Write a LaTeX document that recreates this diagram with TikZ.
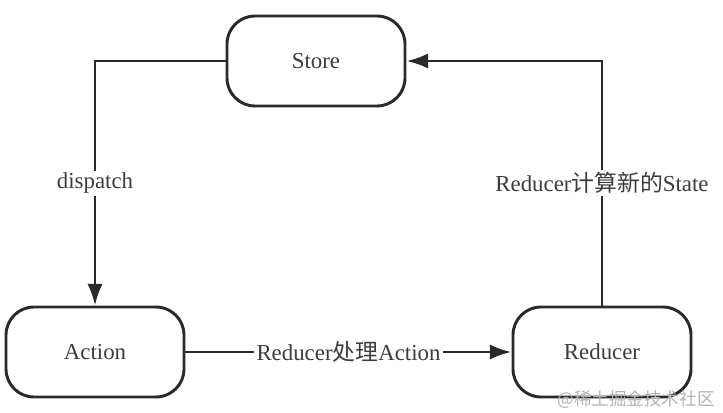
\documentclass[tikz,border=0pt]{standalone}
\usepackage{fontspec}
\setmainfont{Liberation Serif}
\newfontfamily\cjk{Noto Sans CJK SC}
\usetikzlibrary{arrows.meta,positioning,calc}
\definecolor{linegray}{HTML}{2A2A2A}
\definecolor{textgray}{HTML}{3C3C3C}

\begin{document}
\begin{tikzpicture}[x=0.03cm,y=0.03cm,>={Latex[length=0.65cm,width=0.46cm]},
  box/.style={draw=linegray,line width=2.5pt,rounded corners=0.84cm,minimum width=5.34cm,minimum height=2.7cm,text=textgray,font=\fontsize{19.5}{23}\selectfont},
  lbl/.style={fill=white,text=textgray,font=\fontsize{19.5}{23}\selectfont,inner sep=2pt},
  link/.style={draw=linegray,line width=2.5pt}]
  \useasboundingbox (0,0) rectangle (723,412);
  \node[box] (store) at (316,351) {Store};
  \node[box] (action) at (95,60) {Action};
  \node[box] (reducer) at (602,60) {Reducer};
  \draw[link,->] (store.west) -| node[lbl,pos=0.75] {dispatch} (action.north);
  \draw[link,->] (action.east) -- node[lbl] {Reducer{\cjk 处理}Action} (reducer.west);
  \draw[link,->] (reducer.north) |- node[lbl,pos=0.25] {Reducer{\cjk 计算新的}State} (store.east);
  \node[text=gray!60,font=\fontsize{15}{17}\selectfont\cjk] (mark) at (636,12) {@稀土掘金技术社区};
\end{tikzpicture}
\end{document}
